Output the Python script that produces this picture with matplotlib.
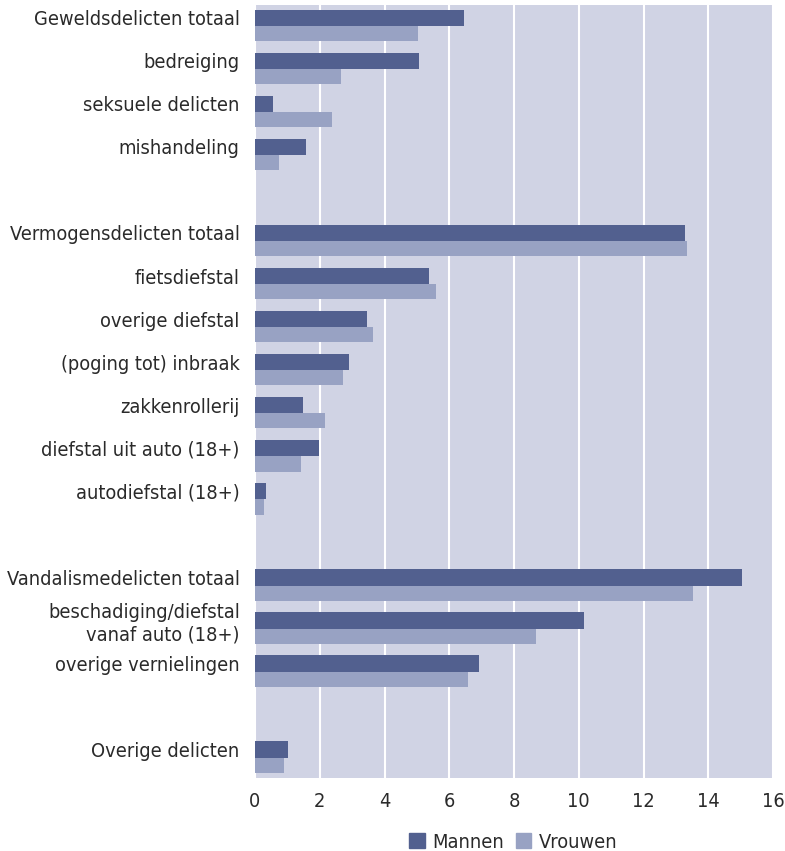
import matplotlib
matplotlib.use("Agg")
from matplotlib import pyplot as plt
from matplotlib.patches import Patch

# categories per group, a blank row between groups
GROUPS = [
  ["Geweldsdelicten totaal", "bedreiging", "seksuele delicten", "mishandeling"],
  ["Vermogensdelicten totaal", "fietsdiefstal", "overige diefstal", "(poging tot) inbraak",
   "zakkenrollerij", "diefstal uit auto (18+)", "autodiefstal (18+)"],
  ["Vandalismedelicten totaal", "beschadiging/diefstal\nvanaf auto (18+)", "overige vernielingen"],
  ["Overige delicten"],
]
MANNEN = [6.45, 5.08, 0.56, 1.58,
          13.28, 5.36, 3.47, 2.91, 1.49, 1.98, 0.34,
          15.03, 10.17, 6.91,
          1.02]
VROUWEN = [5.02, 2.67, 2.39, 0.75,
           13.34, 5.58, 3.66, 2.73, 2.17, 1.43, 0.28,
           13.54, 8.68, 6.57,
           0.90]
XTICKS = list(range(0, 17, 2))

C_M = "#52608f"
C_V = "#98a2c3"
BG = "#d0d3e4"

plt.rcParams["font.family"] = ["DejaVu Sans"]
plt.rcParams["font.stretch"] = "condensed"

labels = []
pos = []
row = 0
for g in GROUPS:
  for name in g:
    labels.append(name)
    pos.append(row)
    row += 1
  row += 1

fig = plt.figure(figsize=(7.85, 8.51), dpi=100)
ax = fig.add_axes([255 / 785, 1 - 778 / 851, 518 / 785, 773 / 851])
ax.set_facecolor(BG)

ax.barh(pos, MANNEN, height=0.39, color=C_M, zorder=3)
ax.barh([p + 0.37 for p in pos], VROUWEN, height=0.35, color=C_V, zorder=3)

ax.set_xlim(0, 16)
ax.set_ylim(17.67, -0.3)
ax.set_xticks(XTICKS)
ax.set_yticks(pos)
ax.set_yticklabels(labels, ha="right", linespacing=1.2)
ax.tick_params(axis="both", length=0, labelsize=14.3, colors="#2a2a2a")
ax.tick_params(axis="y", pad=11)
ax.tick_params(axis="x", pad=10)
ax.xaxis.grid(True, color="white", linewidth=1.5, zorder=1)
ax.set_axisbelow(True)
for s in ax.spines.values():
  s.set_visible(False)

handles = [Patch(color=C_M), Patch(color=C_V)]
fig.legend(handles, ["Mannen", "Vrouwen"], loc="center", bbox_to_anchor=(513 / 785, 1 - 842 / 851),
           ncol=2, frameon=False, fontsize=14.3, handlelength=0.8, handleheight=0.8,
           handletextpad=0.35, columnspacing=0.6, labelcolor="#2a2a2a")

fig.savefig("out.png", dpi=100)
